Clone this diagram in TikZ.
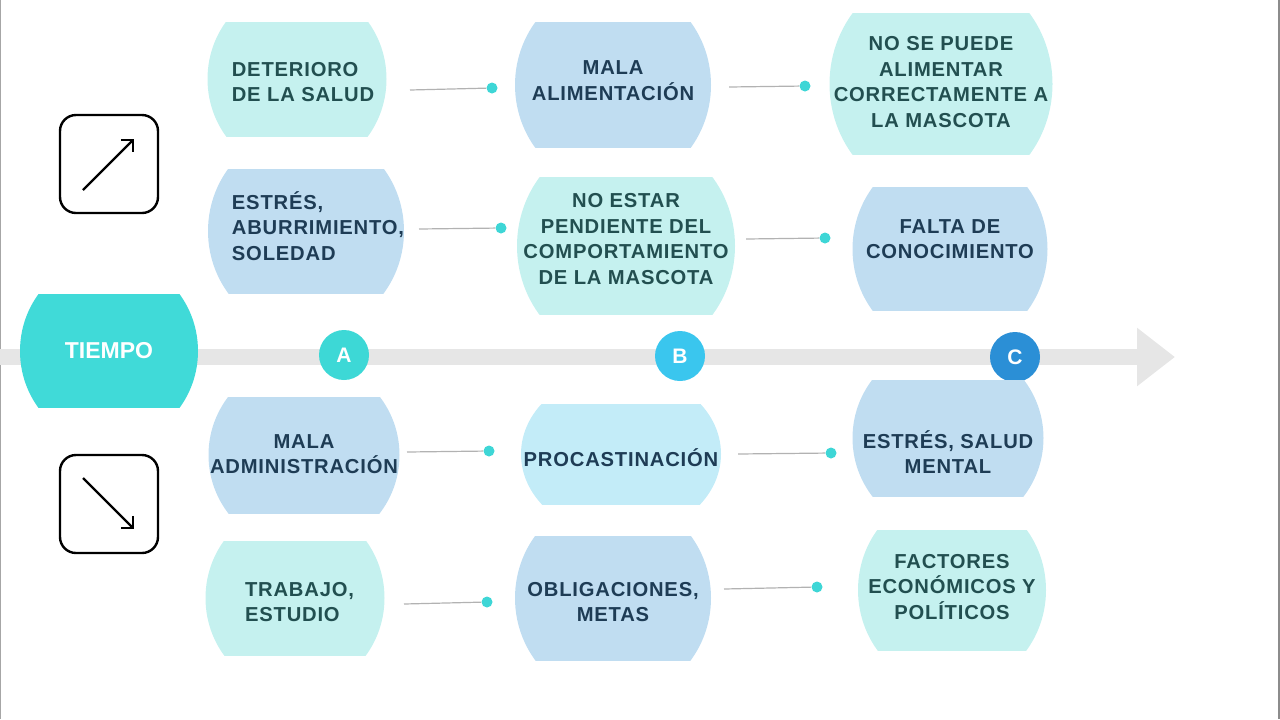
\documentclass[tikz,border=0pt]{standalone}
\usepackage{fontspec}
\setmainfont{Liberation Sans}
\newfontfamily\cajafont{Liberation Sans}[LetterSpace=4]
\usetikzlibrary{arrows.meta,calc}
\usepackage{xcolor}
\definecolor{cianfill}{HTML}{C5F1EF}
\definecolor{azulfill}{HTML}{C0DDF1}
\definecolor{celestefill}{HTML}{C3ECF8}
\definecolor{tealtxt}{HTML}{224F50}
\definecolor{navytxt}{HTML}{1E3C55}
\definecolor{tiempocol}{HTML}{40DAD8}
\definecolor{hitoA}{HTML}{3DD8D6}
\definecolor{hitoB}{HTML}{3AC6EE}
\definecolor{hitoC}{HTML}{2B8FD6}
\definecolor{barcol}{HTML}{E6E6E6}
\definecolor{dotcol}{HTML}{3ED6D6}

\begin{document}
\begin{tikzpicture}[x=0.5pt,y=-0.5pt]
\tikzset{barrel/.style={shape=rectangle, inner sep=0pt,
	path picture={\fill[#1] let \p1=(path picture bounding box.north east),
		\p2=(path picture bounding box.center) in
		(\p2) ellipse [x radius={\x1-\x2}, y radius={1.65*(\y1-\y2)}];}}}
\tikzset{dims/.style 2 args={minimum width={#1*0.5pt}, minimum height={#2*0.5pt}}}
\tikzset{cian/.style={barrel=cianfill}}
\tikzset{azul/.style={barrel=azulfill}}
\tikzset{celeste/.style={barrel=celestefill}}
\tikzset{texto/.style={align=center, inner sep=0pt,
	font=\cajafont\bfseries\fontsize{10.1}{12.75}\selectfont}}
\tikzset{tcian/.style={texto, text=tealtxt}}
\tikzset{tazul/.style={texto, text=navytxt}}
\tikzset{hito/.style={circle, minimum size=25pt, inner sep=0pt, text=white,
	font=\bfseries\fontsize{10.5}{12}\selectfont}}
\tikzset{dot/.style={circle, fill=dotcol, minimum size=5.5pt, inner sep=0pt}}
\tikzset{edge/.style={-, draw=black!30, line width=0.6pt}}
\tikzset{icono/.style={draw, line width=1.2pt, rounded corners=8pt, minimum size=49pt}}
\tikzset{flecha/.style={line width=1.1pt, -{Straight Barb[angle=90:6pt]}}}
\tikzset{linea tiempo/.style={draw=barcol, line width=8pt, -{Triangle[length=19pt,width=28pt]}}}
\useasboundingbox (0,0) rectangle (1280,719);
\draw[black!35, line width=0.8pt] (0.5,0) -- (0.5,719);
\draw[black!45, line width=0.8pt] (1279,0) -- (1279,719);

% linea de tiempo
\coordinate (t0) at (0,357);
\coordinate (t1) at (1175,357);
\draw[linea tiempo] (t0) -- (t1);
\node[barrel=tiempocol, dims={178}{113}, text=white,
	font=\bfseries\fontsize{11.5}{14}\selectfont] (tiempo) at (109,351) {TIEMPO};
\node[hito, fill=hitoA] (A) at (344,355) {A};
\node[hito, fill=hitoB] (B) at (680,356) {B};
\node[hito, fill=hitoC] (C) at (1015,357) {C};

% iconos
\node[icono] (sube) at (109,164) {};
\draw[flecha] ($(sube.center)+(-26,26)$) -- ($(sube.center)+(25,-25)$);
\node[icono] (baja) at (109,504) {};
\draw[flecha] ($(baja.center)+(-26,-26)$) -- ($(baja.center)+(25,25)$);

% cajas arriba
\node[cian, dims={179}{114}, label={[tcian, align=left, xshift=3pt, yshift=-1.5pt]center:DETERIORO\\DE LA SALUD}] (deterioro) at (297,79) {};
\node[azul, dims={196}{125}, label={[tazul, yshift=2.25pt]center:MALA\\ALIMENTACIÓN}] (malaalim) at (613,85) {};
\node[cian, dims={223}{141}, label={[tcian, yshift=1pt]center:NO SE PUEDE\\ALIMENTAR\\CORRECTAMENTE A\\LA MASCOTA}] (nosepuede) at (941,84) {};
\node[azul, dims={196}{124}, label={[tazul, align=left, xshift=6pt, yshift=2.5pt]center:ESTRÉS,\\ABURRIMIENTO,\\SOLEDAD}] (estres) at (306,231) {};
\node[cian, dims={218}{137}, label={[tcian, yshift=3.5pt]center:NO ESTAR\\PENDIENTE DEL\\COMPORTAMIENTO\\DE LA MASCOTA}] (noestar) at (626,246) {};
\node[azul, dims={195}{123}, label={[tazul, yshift=5pt]center:FALTA DE\\CONOCIMIENTO}] (falta) at (950,249) {};

% cajas abajo
\node[azul, dims={191}{116}, label={[tazul, yshift=0.5pt]center:MALA\\ADMINISTRACIÓN}] (malaadmin) at (304,455) {};
\node[celeste, dims={200}{100}, label={[tazul, yshift=-2pt]center:PROCASTINACIÓN}] (procast) at (621,454) {};
\node[azul, dims={191}{116}, label={[tazul, yshift=-7pt]center:ESTRÉS, SALUD\\MENTAL}] (estressalud) at (948,438) {};
\node[cian, dims={179}{114}, label={[tcian, align=left, xshift=2.25pt, yshift=-2pt]center:TRABAJO,\\ESTUDIO}] (trabajo) at (295,598) {};
\node[azul, dims={196}{124}, label={[tazul, yshift=-2pt]center:OBLIGACIONES,\\METAS}] (obligaciones) at (613,598) {};
\node[cian, dims={188}{120}, label={[tcian, yshift=1.5pt]center:FACTORES\\ECONÓMICOS Y\\POLÍTICOS}] (factores) at (952,590) {};

% puntos
\node[dot] (p1) at (492,88) {};
\node[dot] (p2) at (805,86) {};
\node[dot] (p3) at (501,228) {};
\node[dot] (p4) at (825,238) {};
\node[dot] (p5) at (489,451) {};
\node[dot] (p6) at (831,453) {};
\node[dot] (p7) at (487,602) {};
\node[dot] (p8) at (817,587) {};
\coordinate (c1) at (410,90);
\coordinate (c2) at (729,87);
\coordinate (c3) at (419,229);
\coordinate (c4) at (746,239);
\coordinate (c5) at (407,452);
\coordinate (c6) at (738,454);
\coordinate (c7) at (404,604);
\coordinate (c8) at (724,589);

%edges
\draw[edge] (c1) -- (p1);
\draw[edge] (c2) -- (p2);
\draw[edge] (c3) -- (p3);
\draw[edge] (c4) -- (p4);
\draw[edge] (c5) -- (p5);
\draw[edge] (c6) -- (p6);
\draw[edge] (c7) -- (p7);
\draw[edge] (c8) -- (p8);
\end{tikzpicture}
\end{document}
